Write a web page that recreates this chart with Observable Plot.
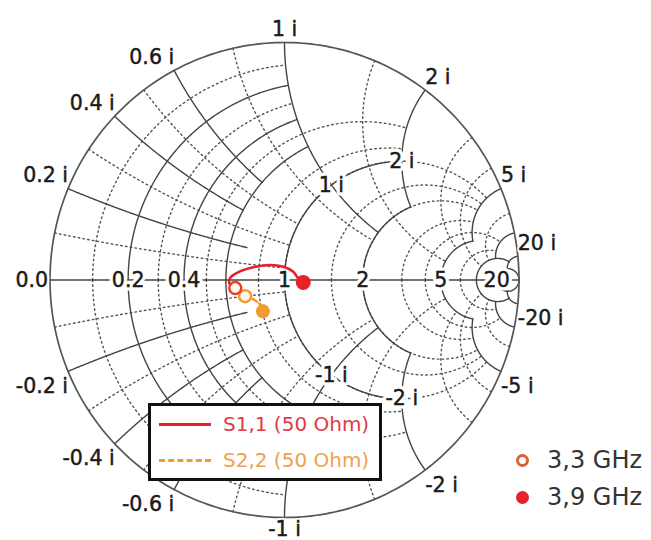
<!DOCTYPE html>
<html>
<head>
<meta charset="utf-8">
<script src="https://cdn.jsdelivr.net/npm/d3@7"></script>
<script src="https://cdn.jsdelivr.net/npm/@observablehq/plot@0.6"></script>
<style>
  html, body { margin: 0; padding: 0; background: #fff; }
  #wrap { position: relative; width: 651px; height: 540px; overflow: hidden; font-family: "DejaVu Sans", Verdana, sans-serif; }
  .legbox { position: absolute; left: 148px; top: 403px; width: 228px; height: 72px; border: 3px solid #111; background: #fff; }
  .legrow { position: absolute; left: 8px; height: 24px; display: flex; align-items: center; font-size: 20px; white-space: nowrap; }
  .legrow .sw { width: 52px; margin-right: 12px; }
  .freq { position: absolute; left: 516px; font-size: 24px; color: #333; display: flex; align-items: center; white-space: nowrap; height: 30px; }
  .freq .mk { width: 13px; height: 13px; border-radius: 50%; margin-right: 18px; box-sizing: border-box; }
</style>
</head>
<body>
<div id="wrap"></div>
<script>
// ---------------- data ----------------
// grid: resistance circles (value, reactance extent) and reactance arcs (value, resistance extent)
const rSolid      = [0.2, 0.4, 0.6, 1, 2, 5, 10, 20];
const rSolidXMax  = [1,   1,   1,   2, 2, 5, 20, Infinity];
const xSolid      = [0.2, 0.4, 0.6, 1, 2, 5, 10, 20];
const xSolidRMax  = [0.7, 0.6, 0.6, 2, 2, 5, 10, 20];
const rDotted     = [0.1, 0.3, 0.5, 0.8, 1, 1.5, 2, 3, 4, 7];
const rDottedXMax = [1,   1,   2,   2,   5, 5,   5, 5, 10, 10];
const xDotted     = [0.1, 0.3, 0.5, 0.8, 1.5, 3, 4, 7];
const xDottedRMax = [1,   1,   1,   2,   5,   5, 10, 10];
// tick labels
const realLabels  = [0.2, 0.4, 1, 2, 5, 20];
const imagLabels  = [0.2, 0.4, 0.6, 1, 2, 5, 20];
const innerImag   = [1, 2];           // labels placed on the r = 1 circle
// S-parameter traces (reflection coefficient, re / im), 3.3 GHz -> 3.9 GHz
const s11Re = [-0.210, -0.234, -0.232, -0.190, -0.128, -0.064, -0.004, 0.036, 0.058, 0.080];
const s11Im = [-0.034, -0.016,  0.008,  0.036,  0.055,  0.063,  0.056, 0.036, 0.008, -0.010];
const s22Re = [-0.168, -0.140, -0.114, -0.098, -0.092];
const s22Im = [-0.068, -0.078, -0.094, -0.112, -0.132];
const traceNames = ["S1,1 (50 Ohm)", "S2,2 (50 Ohm)"];
const freqNames  = ["3,3 GHz", "3,9 GHz"];

// ---------------- geometry helpers ----------------
const N = 160;
function gamma(r, x) {
  const d = (r + 1) * (r + 1) + x * x;
  return [(r * r + x * x - 1) / d, 2 * x / d];
}
function rArc(r, xmax, sign, id) {
  const c = r / (1 + r), R = 1 / (1 + r);
  const t0 = Math.PI, t1 = Math.PI - 2 * Math.atan(xmax / (1 + r));
  const pts = [];
  for (let i = 0; i <= N; i++) {
    const t = t0 + (t1 - t0) * i / N;
    pts.push({gx: c + R * Math.cos(t), gy: sign * R * Math.sin(t), id});
  }
  return pts;
}
function xArc(x, rmax, sign, id) {
  const cx = 1, cy = 1 / x, R = 1 / x;
  const norm = a => (a < 0 ? a + 2 * Math.PI : a);
  const g0 = gamma(0, x), g1 = gamma(rmax, x);
  const a0 = norm(Math.atan2(g0[1] - cy, g0[0] - cx));
  const a1 = norm(Math.atan2(g1[1] - cy, g1[0] - cx));
  const pts = [];
  for (let i = 0; i <= N; i++) {
    const a = a0 + (a1 - a0) * i / N;
    pts.push({gx: cx + R * Math.cos(a), gy: sign * (cy + R * Math.sin(a)), id});
  }
  return pts;
}
function buildGrid(rv, rx, xv, xr, tag) {
  let out = [];
  rv.forEach((r, i) => { out = out.concat(rArc(r, rx[i], 1, tag + "r+" + r), rArc(r, rx[i], -1, tag + "r-" + r)); });
  xv.forEach((x, i) => { out = out.concat(xArc(x, xr[i], 1, tag + "x+" + x), xArc(x, xr[i], -1, tag + "x-" + x)); });
  return out;
}
const solidGrid  = buildGrid(rSolid, rSolidXMax, xSolid, xSolidRMax, "s");
const dottedGrid = buildGrid(rDotted, rDottedXMax, xDotted, xDottedRMax, "d");
const outer = rArc(0, Infinity, 1, "o+").concat(rArc(0, Infinity, -1, "o-"));

const fmt = v => String(v);
const realLab = realLabels.map(r => ({gx: gamma(r, 0)[0], gy: 0, t: fmt(r)}));
const imagLab = [];
imagLabels.forEach(x => {
  const g = gamma(0, x);
  const anchor = g[0] < -0.02 ? "end" : (g[0] > 0.02 ? "start" : "middle");
  imagLab.push({gx: g[0], gy: g[1], t: fmt(x) + " i", anchor, up: true});
  imagLab.push({gx: g[0], gy: -g[1], t: "-" + fmt(x) + " i", anchor, up: false});
});
const innerLab = [];
innerImag.forEach(x => {
  const g = gamma(1, x);
  innerLab.push({gx: g[0], gy: g[1], t: fmt(x) + " i"});
  innerLab.push({gx: g[0], gy: -g[1], t: "-" + fmt(x) + " i"});
});

const s11 = s11Re.map((v, i) => ({gx: v, gy: s11Im[i]}));
const s22 = s22Re.map((v, i) => ({gx: v, gy: s22Im[i]}));
const RED = "#e8202a", ORANGE = "#f39a2e";

const font = {fontFamily: "DejaVu Sans, Verdana, sans-serif", fontSize: 20.5};
// each label: a white halo, then the text itself with a faint same-colour stroke
function labelPair(data, opts, halo) {
  return [
    Plot.text(data, {x: "gx", y: "gy", text: "t", ...font, ...opts, fill: "white", stroke: "white", strokeWidth: halo}),
    Plot.text(data, {x: "gx", y: "gy", text: "t", ...font, ...opts, fill: "#1a1a1a", stroke: "#1a1a1a", strokeWidth: 0.45})
  ];
}

const labelMarks = [];
labelMarks.push(...labelPair(realLab, {}, 7));
labelMarks.push(...labelPair([{gx: -1, gy: 0, t: "0.0"}], {textAnchor: "end", dx: -2}, 5));
["end", "middle", "start"].forEach(a => {
  labelMarks.push(...labelPair(imagLab.filter(d => d.up && d.anchor === a), {textAnchor: a, dy: -13}, 4));
  labelMarks.push(...labelPair(imagLab.filter(d => !d.up && d.anchor === a), {textAnchor: a, dy: a === "middle" ? 12 : 15}, 4));
});
labelMarks.push(...labelPair(innerLab, {}, 7));

const chart = Plot.plot({
  width: 651,
  height: 540,
  x: {domain: [-1, 1], range: [49.5, 518.5], axis: null},
  y: {domain: [-1, 1], range: [517, 42], axis: null},
  style: {background: "transparent"},
  marks: [
    Plot.line(dottedGrid, {x: "gx", y: "gy", z: "id", stroke: "#555", strokeWidth: 1.4, strokeDasharray: "1.6,3.2"}),
    Plot.line(solidGrid, {x: "gx", y: "gy", z: "id", stroke: "#444", strokeWidth: 1.4}),
    Plot.line(outer, {x: "gx", y: "gy", z: "id", stroke: "#555", strokeWidth: 1.7}),
    Plot.ruleY([0], {x1: -1, x2: 1, stroke: "#444", strokeWidth: 1.4}),
    ...labelMarks,
    Plot.line(s22, {x: "gx", y: "gy", stroke: ORANGE, strokeWidth: 2.5, strokeDasharray: "5,3", curve: "catmull-rom"}),
    Plot.line(s11, {x: "gx", y: "gy", stroke: RED, strokeWidth: 2.6, curve: "catmull-rom"}),
    Plot.dot([s22[0]], {x: "gx", y: "gy", r: 6, stroke: ORANGE, strokeWidth: 2.5, fill: "#fff8ee"}),
    Plot.dot([s22[s22.length - 1]], {x: "gx", y: "gy", r: 7, fill: ORANGE, stroke: "none"}),
    Plot.dot([s11[0]], {x: "gx", y: "gy", r: 6, stroke: "#e8402a", strokeWidth: 2.5, fill: "#fff8ee"}),
    Plot.dot([s11[s11.length - 1]], {x: "gx", y: "gy", r: 7.5, fill: RED, stroke: "none"})
  ]
});

const wrap = document.getElementById("wrap");
wrap.appendChild(chart);

// legend for traces
const box = document.createElement("div");
box.className = "legbox";
const swStyles = [`border-top: 3px solid ${RED}`, `border-top: 3px dashed ${ORANGE}`];
const txtCols = ["#e03a46", "#f0a050"];
traceNames.forEach((n, i) => {
  const row = document.createElement("div");
  row.className = "legrow";
  row.style.top = (i === 0 ? 6 : 42) + "px";
  row.innerHTML = `<div class="sw" style="${swStyles[i]}"></div><span style="color:${txtCols[i]}">${n}</span>`;
  box.appendChild(row);
});
wrap.appendChild(box);

// legend for frequencies
const mkStyles = [`border: 3px solid #d8603a; background: #fff`, `background: ${RED}`];
freqNames.forEach((n, i) => {
  const row = document.createElement("div");
  row.className = "freq";
  row.style.top = (i === 0 ? 445 : 482) + "px";
  row.innerHTML = `<div class="mk" style="${mkStyles[i]}"></div><span>${n}</span>`;
  wrap.appendChild(row);
});
</script>
</body>
</html>
